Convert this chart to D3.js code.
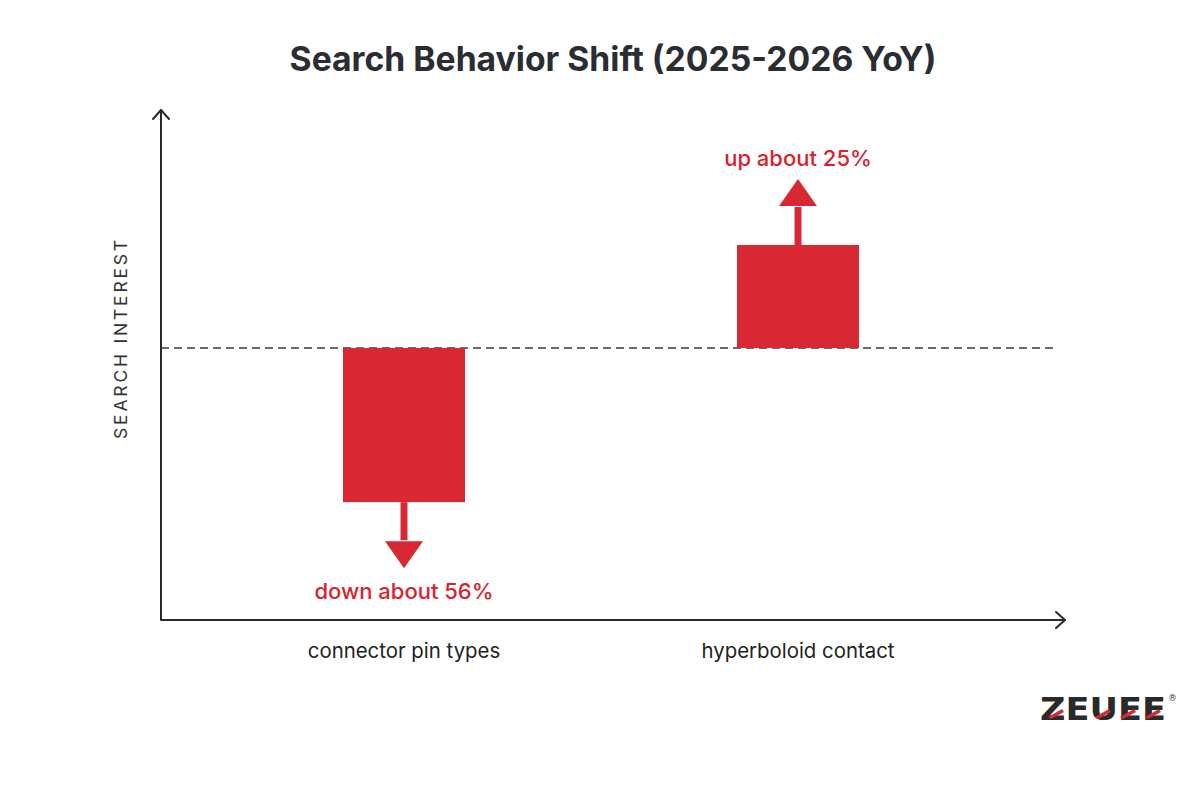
<!DOCTYPE html>
<html><head><meta charset="utf-8">
<script src="https://cdn.jsdelivr.net/npm/d3@7/dist/d3.min.js"></script>
<style>body{margin:0;background:#fff}svg{display:block}</style>
</head><body>
<svg id="chart" width="1200" height="800"></svg>
<script>
const categories = ["connector pin types", "hyperboloid contact"];
const changes = [-56, 25];
const annotations = ["down about 56%", "up about 25%"];
const title = "Search Behavior Shift (2025-2026 YoY)";
const yLabel = "SEARCH INTEREST";

const svg = d3.select("#chart");
const W = 1200, H = 800;
const red = "#d72834", ink = "#26292e";
const font = "Inter, Roboto, 'Open Sans', sans-serif";

svg.append("rect").attr("width", W).attr("height", H).attr("fill", "#fff");

const axisX0 = 161, axisY0 = 620, axisTop = 110, axisRight = 1065, base = 348;

const x = d3.scaleBand().domain(categories).range([207, 995]).paddingInner(0.69).paddingOuter(0.345);
const mag = d3.scaleSqrt().domain([0, 100]).range([0, 206]);
const yOf = v => base - Math.sign(v) * mag(Math.abs(v));
const bw = 122;
const cx = c => x(c) + x.bandwidth() / 2;

// title
svg.append("text").attr("x", 613).attr("y", 71).attr("text-anchor", "middle")
  .attr("font-family", font).attr("font-weight", 700)
  .attr("font-size", 33.7).attr("fill", "#2a2d32").text(title);

// dashed baseline
svg.append("line").attr("x1", axisX0).attr("x2", 1058).attr("y1", base).attr("y2", base)
  .attr("stroke", "#3a3a3a").attr("stroke-width", 1.5).attr("stroke-dasharray", "8,5");

// bars
svg.selectAll("rect.bar").data(categories).join("rect").attr("class", "bar")
  .attr("x", c => cx(c) - bw / 2)
  .attr("width", bw)
  .attr("y", (c, i) => Math.min(base, yOf(changes[i])))
  .attr("height", (c, i) => Math.abs(yOf(changes[i]) - base))
  .attr("fill", red);

// arrows
categories.forEach((c, i) => {
  const v = changes[i], s = Math.sign(v), xc = cx(c);
  const end = yOf(v);
  const stemLen = 39, headLen = 27, headW = 19;
  const stemEnd = end - s * stemLen;
  svg.append("line").attr("x1", xc).attr("x2", xc).attr("y1", end).attr("y2", stemEnd + s * 1)
    .attr("stroke", red).attr("stroke-width", 7);
  const tip = stemEnd - s * headLen;
  svg.append("path").attr("d", `M${xc - headW},${stemEnd} L${xc + headW},${stemEnd} L${xc},${tip} Z`).attr("fill", red);
  svg.append("text").attr("x", xc).attr("y", s < 0 ? tip + 31 : tip - 13)
    .attr("text-anchor", "middle").attr("font-family", font)
    .attr("font-weight", 500).attr("font-size", 22).attr("fill", "#d9222d").text(annotations[i]);
});

// axes
const g = svg.append("g").attr("stroke", ink).attr("stroke-width", 2).attr("fill", "none")
  .attr("stroke-linecap", "round").attr("stroke-linejoin", "round");
g.append("path").attr("d", `M${axisX0},${axisTop} V${axisY0} H${axisRight}`);
g.append("path").attr("d", `M${axisX0 - 8},${axisTop + 9} L${axisX0},${axisTop} L${axisX0 + 8},${axisTop + 9}`);
g.append("path").attr("d", `M${axisRight - 9},${axisY0 - 8} L${axisRight},${axisY0} L${axisRight - 9},${axisY0 + 8}`);

// category labels
svg.selectAll("text.cat").data(categories).join("text").attr("class", "cat")
  .attr("x", c => cx(c)).attr("y", 658).attr("text-anchor", "middle")
  .attr("font-family", font).attr("font-size", 20.4)
  .attr("fill", "#222").text(c => c);

// y label
svg.append("text").attr("transform", "translate(127,338) rotate(-90)").attr("text-anchor", "middle")
  .attr("font-family", font).attr("font-size", 17.5)
  .attr("letter-spacing", 2.8).attr("fill", "#333").text(yLabel);

// logo
const logo = svg.append("g").attr("transform", "translate(1040,720)");
logo.append("text").attr("x", 0).attr("y", 0).attr("font-family", "'DejaVu Sans', sans-serif")
  .attr("font-weight", 900).attr("font-size", 32).attr("textLength", 126).attr("lengthAdjust", "spacingAndGlyphs")
  .attr("fill", "#2a2a2a").text("ZEUEE");
[[8, -11], [55, -11], [80, -11], [105, -11]].forEach(p => {
  logo.append("path").attr("d", `M${p[0]},${p[1] + 8} L${p[0] + 14},${p[1]} L${p[0] + 16},${p[1] + 3} L${p[0] + 3},${p[1] + 10} Z`).attr("fill", red);
});
logo.append("text").attr("x", 129).attr("y", -19).attr("font-family", "Roboto, sans-serif")
  .attr("font-size", 9).attr("fill", "#444").text("®");
</script>
</body></html>
